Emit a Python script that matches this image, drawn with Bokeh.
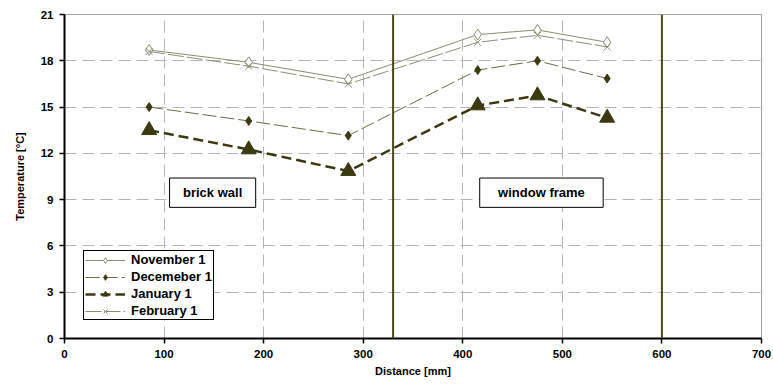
from bokeh.plotting import figure
from bokeh.models import (FixedTicker, Span, BoxAnnotation, Label, Legend, LegendItem, Range1d)
from bokeh.embed import file_html
from bokeh.resources import INLINE

distance = [85, 185, 285, 415, 475, 545]
november = [18.7, 17.9, 16.8, 19.7, 20.0, 19.2]
december = [15.0, 14.1, 13.15, 17.4, 18.0, 16.85]
january = [13.5, 12.25, 10.85, 15.1, 15.75, 14.3]
february = [18.6, 17.65, 16.5, 19.2, 19.65, 18.9]
series_names = ["November 1", "Decemeber 1", "January 1", "February 1"]
x_ticks = [0, 100, 200, 300, 400, 500, 600, 700]
y_ticks = [0, 3, 6, 9, 12, 15, 18, 21]
boundaries = [330, 600]

FONT = "Liberation Sans"

p = figure(width=773, height=385, output_backend="svg", toolbar_location=None,
           x_range=Range1d(0, 700), y_range=Range1d(0, 21),
           min_border_left=64, min_border_right=12, min_border_top=14, min_border_bottom=47)
p.background_fill_color = "white"
p.border_fill_color = "white"
p.outline_line_color = "#a0a0a0"
p.outline_line_width = 1

for ax, ticks in ((p.xaxis[0], x_ticks), (p.yaxis[0], y_ticks)):
    ax.ticker = FixedTicker(ticks=ticks)
    ax.axis_line_color = "black"
    ax.axis_line_width = 2
    ax.major_tick_line_color = "black"
    ax.major_tick_line_width = 1.5
    ax.major_tick_out = 5
    ax.major_tick_in = 0
    ax.minor_tick_line_color = None
    ax.major_label_text_font = FONT
    ax.major_label_text_font_style = "bold"
    ax.major_label_text_font_size = "11.5px"
    ax.major_label_text_color = "black"
    ax.axis_label_text_font = FONT
    ax.axis_label_text_font_style = "bold"
    ax.axis_label_text_font_size = "11px"
    ax.axis_label_text_color = "black"

p.xaxis.axis_label = "Distance [mm]"
p.yaxis.axis_label = "Temperature [°C]"
p.xaxis.major_label_standoff = 6
p.xaxis.axis_label_standoff = 4
p.yaxis.major_label_standoff = 6
p.yaxis.axis_label_standoff = 12

p.xgrid.ticker = FixedTicker(ticks=[t for t in x_ticks if 0 < t < 700])
p.ygrid.ticker = FixedTicker(ticks=[t for t in y_ticks if 0 < t < 21])
for g in (p.xgrid[0], p.ygrid[0]):
    g.grid_line_color = "#b4b4b4"
    g.grid_line_width = 1
    g.grid_line_dash = "12 6"

for b in boundaries:
    p.add_layout(Span(location=b, dimension="height", line_color="#4a4a1c", line_width=2))

# text boxes
for left, right, txt in ((105.5, 192, "brick wall"), (417, 541, "window frame")):
    p.add_layout(BoxAnnotation(left=left, right=right, bottom=8.5, top=10.4,
                               fill_color="white", fill_alpha=1, line_color="black",
                               line_alpha=1, line_width=1, level="overlay"))
    p.add_layout(Label(x=(left + right) / 2, y=9.45, text=txt, text_align="center",
                       text_baseline="middle", text_font=FONT, text_font_style="bold",
                       text_font_size="13px", text_color="black", level="overlay"))

# series
l_nov = p.line(distance, november, line_color="#8c8c6e", line_width=1)
m_nov = p.scatter(distance, november, marker="diamond", size=11, line_color="#8c8c78",
                  fill_color="white", line_width=1)
l_dec = p.line(distance, december, line_color="#6a6a48", line_width=1, line_dash="14 4")
m_dec = p.scatter(distance, december, marker="diamond", size=9, line_color="#3a3a14",
                  fill_color="#3a3a14")
l_jan = p.line(distance, january, line_color="#3a3a10", line_width=2.5, line_dash="10 5")
m_jan = p.scatter(distance, january, marker="triangle", size=15, line_color="#3a3a10",
                  fill_color="#3a3a10")
l_feb = p.line(distance, february, line_color="#8c8c78", line_width=1, line_dash="16 3")
m_feb = p.scatter(distance, february, marker="x", size=10, line_color="#8c8c78", line_width=1)

legend = Legend(items=[
    LegendItem(label=series_names[0], renderers=[l_nov, m_nov]),
    LegendItem(label=series_names[1], renderers=[l_dec, m_dec]),
    LegendItem(label=series_names[2], renderers=[l_jan, m_jan]),
    LegendItem(label=series_names[3], renderers=[l_feb, m_feb]),
], location=(19, 18))
legend.label_text_font = FONT
legend.label_text_font_style = "bold"
legend.label_text_font_size = "13px"
legend.label_text_color = "black"
legend.label_height = 14
legend.glyph_height = 14
legend.glyph_width = 40
legend.spacing = 2
legend.padding = 1
legend.margin = 0
legend.border_line_color = "black"
legend.border_line_alpha = 1
legend.border_line_width = 1
legend.background_fill_alpha = 1
legend.label_standoff = 6
p.add_layout(legend)

open("out.html", "w").write(file_html(p, INLINE))
